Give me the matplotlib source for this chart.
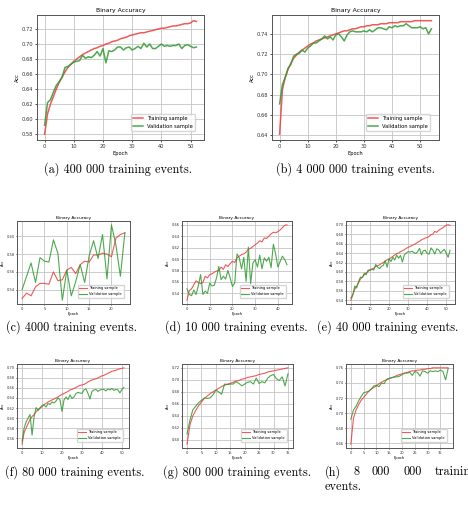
import numpy as np
import matplotlib
matplotlib.use("Agg")
from matplotlib import pyplot as plt
from matplotlib.ticker import MultipleLocator, FormatStrFormatter

# (a) 400 000 training events
train_a = [0.580, 0.607, 0.620, 0.630, 0.640, 0.649, 0.656, 0.663, 0.669, 0.673,
           0.677, 0.680, 0.683, 0.686, 0.688, 0.690, 0.692, 0.694, 0.695, 0.697,
           0.698, 0.700, 0.701, 0.703, 0.704, 0.705, 0.707, 0.708, 0.709, 0.711,
           0.712, 0.713, 0.714, 0.715, 0.715, 0.716, 0.717, 0.718, 0.719, 0.720,
           0.721, 0.721, 0.722, 0.723, 0.724, 0.724, 0.725, 0.726, 0.727, 0.727,
           0.728, 0.731, 0.730]
val_a = [0.592, 0.622, 0.626, 0.636, 0.645, 0.650, 0.656, 0.669, 0.670, 0.673,
         0.676, 0.677, 0.678, 0.685, 0.681, 0.683, 0.682, 0.685, 0.690, 0.684,
         0.694, 0.675, 0.691, 0.690, 0.692, 0.696, 0.696, 0.692, 0.695, 0.696,
         0.692, 0.694, 0.697, 0.694, 0.701, 0.696, 0.700, 0.694, 0.694, 0.697,
         0.700, 0.697, 0.698, 0.697, 0.698, 0.698, 0.700, 0.694, 0.698, 0.699,
         0.697, 0.695, 0.696]

# (b) 4 000 000 training events
train_b = [0.641, 0.685, 0.697, 0.705, 0.711, 0.716, 0.719, 0.722, 0.724, 0.726,
           0.728, 0.730, 0.731, 0.733, 0.734, 0.735, 0.736, 0.737, 0.738, 0.739,
           0.740, 0.741, 0.742, 0.743, 0.743, 0.744, 0.745, 0.745, 0.746, 0.747,
           0.747, 0.748, 0.748, 0.749, 0.749, 0.749, 0.750, 0.750, 0.750, 0.751,
           0.751, 0.751, 0.751, 0.752, 0.752, 0.752, 0.752, 0.752, 0.753, 0.753,
           0.753, 0.753, 0.753, 0.753, 0.753]
val_b = [0.671, 0.690, 0.697, 0.706, 0.710, 0.718, 0.720, 0.721, 0.724, 0.722,
         0.726, 0.728, 0.731, 0.731, 0.733, 0.735, 0.738, 0.735, 0.737, 0.734,
         0.739, 0.740, 0.737, 0.733, 0.739, 0.742, 0.743, 0.742, 0.742, 0.742,
         0.743, 0.742, 0.744, 0.742, 0.744, 0.746, 0.746, 0.745, 0.744, 0.747,
         0.746, 0.748, 0.747, 0.748, 0.748, 0.750, 0.748, 0.746, 0.746, 0.746,
         0.747, 0.745, 0.746, 0.740, 0.745]

# (c) 4000 training events
train_c = [0.530, 0.536, 0.533, 0.543, 0.547, 0.547, 0.546, 0.560, 0.550, 0.551,
           0.562, 0.565, 0.558, 0.568, 0.572, 0.571, 0.579, 0.579, 0.581, 0.580,
           0.577, 0.598, 0.602, 0.604]
val_c = [0.540, 0.555, 0.570, 0.548, 0.576, 0.572, 0.571, 0.596, 0.581, 0.528,
         0.562, 0.533, 0.549, 0.568, 0.548, 0.578, 0.595, 0.575, 0.602, 0.552,
         0.613, 0.590, 0.555, 0.604]

# (d) 10 000 training events
train_d = [0.528, 0.545, 0.548, 0.555, 0.562, 0.559, 0.557, 0.559, 0.570, 0.567,
           0.573, 0.574, 0.577, 0.579, 0.580, 0.586, 0.582, 0.590, 0.587, 0.592,
           0.596, 0.594, 0.602, 0.605, 0.608, 0.609, 0.612, 0.617, 0.619, 0.622,
           0.625, 0.628, 0.632, 0.630, 0.637, 0.636, 0.640, 0.644, 0.647, 0.646,
           0.648, 0.651, 0.655, 0.659, 0.660]
val_d = [0.548, 0.538, 0.536, 0.546, 0.538, 0.554, 0.573, 0.538, 0.544, 0.540,
         0.558, 0.553, 0.554, 0.567, 0.587, 0.564, 0.570, 0.565, 0.580, 0.567,
         0.552, 0.558, 0.609, 0.602, 0.583, 0.603, 0.561, 0.621, 0.557, 0.593,
         0.599, 0.586, 0.607, 0.583, 0.602, 0.596, 0.603, 0.585, 0.626, 0.609,
         0.586, 0.596, 0.605, 0.599, 0.590]

# (e) 40 000 training events
train_e = [0.540, 0.552, 0.563, 0.570, 0.577, 0.585, 0.589, 0.594, 0.598, 0.601,
           0.605, 0.606, 0.608, 0.612, 0.613, 0.615, 0.618, 0.620, 0.623, 0.626,
           0.627, 0.630, 0.633, 0.636, 0.639, 0.640, 0.643, 0.645, 0.647, 0.650,
           0.652, 0.654, 0.656, 0.658, 0.660, 0.663, 0.665, 0.668, 0.670, 0.672,
           0.673, 0.675, 0.679, 0.680, 0.686, 0.684, 0.688, 0.691, 0.693, 0.696,
           0.699, 0.700, 0.699]
val_e = [0.545, 0.552, 0.570, 0.566, 0.580, 0.589, 0.588, 0.597, 0.594, 0.604,
         0.603, 0.606, 0.604, 0.616, 0.610, 0.607, 0.612, 0.614, 0.624, 0.610,
         0.628, 0.622, 0.631, 0.625, 0.636, 0.629, 0.635, 0.621, 0.636, 0.640,
         0.643, 0.642, 0.644, 0.641, 0.639, 0.643, 0.650, 0.636, 0.645, 0.646,
         0.639, 0.638, 0.651, 0.646, 0.638, 0.649, 0.647, 0.640, 0.644, 0.648,
         0.640, 0.631, 0.646]

# (f) 80 000 training events
train_f = [0.548, 0.571, 0.580, 0.589, 0.597, 0.603, 0.607, 0.612, 0.617, 0.620,
           0.623, 0.627, 0.629, 0.632, 0.634, 0.636, 0.638, 0.640, 0.642, 0.645,
           0.647, 0.649, 0.651, 0.653, 0.656, 0.657, 0.659, 0.661, 0.663, 0.665,
           0.666, 0.667, 0.669, 0.672, 0.674, 0.676, 0.677, 0.678, 0.680, 0.682,
           0.684, 0.685, 0.687, 0.689, 0.691, 0.693, 0.694, 0.695, 0.697, 0.698,
           0.699, 0.700]
val_f = [0.554, 0.580, 0.592, 0.600, 0.607, 0.566, 0.602, 0.621, 0.615, 0.620,
         0.625, 0.626, 0.622, 0.629, 0.627, 0.632, 0.630, 0.634, 0.640, 0.636,
         0.613, 0.636, 0.642, 0.637, 0.646, 0.639, 0.642, 0.649, 0.651, 0.650,
         0.649, 0.656, 0.658, 0.649, 0.638, 0.653, 0.656, 0.657, 0.653, 0.656,
         0.657, 0.657, 0.654, 0.658, 0.656, 0.659, 0.655, 0.657, 0.656, 0.650,
         0.657, 0.661]

# (g) 800 000 training events
train_g = [0.593, 0.625, 0.640, 0.649, 0.657, 0.663, 0.669, 0.673, 0.677, 0.680,
           0.683, 0.686, 0.689, 0.691, 0.693, 0.694, 0.696, 0.698, 0.699, 0.701,
           0.702, 0.704, 0.705, 0.706, 0.707, 0.709, 0.710, 0.711, 0.713, 0.714,
           0.715, 0.716, 0.717, 0.718, 0.719, 0.720]
val_g = [0.610, 0.633, 0.650, 0.656, 0.662, 0.666, 0.670, 0.669, 0.670, 0.675,
         0.683, 0.680, 0.676, 0.693, 0.692, 0.693, 0.693, 0.697, 0.694, 0.690,
         0.693, 0.696, 0.697, 0.693, 0.703, 0.694, 0.697, 0.695, 0.703, 0.707,
         0.709, 0.702, 0.699, 0.705, 0.690, 0.710]

# (h) 8 000 000 training events
train_h = [0.659, 0.693, 0.704, 0.711, 0.717, 0.721, 0.725, 0.729, 0.732, 0.734,
           0.736, 0.739, 0.741, 0.743, 0.744, 0.746, 0.747, 0.748, 0.750, 0.751,
           0.752, 0.753, 0.754, 0.755, 0.756, 0.756, 0.757, 0.757, 0.758, 0.758,
           0.759, 0.759, 0.760, 0.760, 0.760, 0.760, 0.760, 0.760, 0.760]
val_h = [0.692, 0.704, 0.709, 0.716, 0.722, 0.727, 0.728, 0.729, 0.732, 0.736,
         0.737, 0.735, 0.740, 0.739, 0.745, 0.746, 0.747, 0.748, 0.748, 0.749,
         0.751, 0.753, 0.753, 0.754, 0.750, 0.755, 0.754, 0.749, 0.756, 0.755,
         0.753, 0.756, 0.755, 0.756, 0.755, 0.757, 0.755, 0.744, 0.759]

W, H = 468, 508
fig = plt.figure(figsize=(W / 100, H / 100), dpi=100)


def px(l, t, r, b):
    return [l / W, 1 - b / H, (r - l) / W, (b - t) / H]


def panel(box, train, val, xstep, s, lw):
    ax = fig.add_axes(px(*box))
    ep = np.arange(len(train))
    ax.plot(ep, train, color='#f03c3c', alpha=0.85, lw=lw, label='Training sample')
    ax.plot(ep, val, color='#2e9a2e', alpha=0.85, lw=lw, label='Validation sample')
    ax.set_title('Binary Accuracy', fontsize=12 * s, pad=6 * s)
    ax.set_xlabel('Epoch', fontsize=10 * s, labelpad=4 * s)
    ax.set_ylabel('Acc', fontsize=10 * s, labelpad=4 * s)
    ax.xaxis.set_major_locator(MultipleLocator(xstep))
    ax.yaxis.set_major_locator(MultipleLocator(0.02))
    ax.yaxis.set_major_formatter(FormatStrFormatter('%.2f'))
    ax.tick_params(labelsize=10 * s, length=3.5 * s, width=0.6, pad=3.5 * s,
                   colors='#333333')
    ax.grid(True, lw=0.6, color='#c4c4c4')
    for sp in ax.spines.values():
        sp.set_linewidth(0.7)
        sp.set_color('#555555')
    ax.legend(loc='lower right', fontsize=10 * s, borderaxespad=1.8)
    return ax


panel((37, 15, 204, 140), train_a, val_a, 10, 0.37, 1.1)
panel((272, 15, 439, 140), train_b, val_b, 10, 0.37, 1.1)
panel((17, 221, 130, 304), train_c, val_c, 5, 0.26, 0.8)
panel((182, 221, 292, 304), train_d, val_d, 10, 0.26, 0.8)
panel((346, 221, 455, 304), train_e, val_e, 10, 0.26, 0.8)
panel((17, 364, 129, 448), train_f, val_f, 10, 0.26, 0.8)
panel((182, 364, 293, 448), train_g, val_g, 5, 0.26, 0.8)
panel((346, 364, 453, 448), train_h, val_h, 5, 0.26, 0.8)

# captions
cap = dict(fontfamily='cmr10', fontsize=8.8, va='center')


def cx(x, y, txt, ha='center'):
    fig.text(x / W, 1 - y / H, txt, ha=ha, **cap)


cx(118, 169, '(a) 400 000 training events.')
cx(356, 169, '(b) 4 000 000 training events.')
cx(72, 327, '(c) 4000 training events.')
cx(236, 327, '(d) 10 000 training events.')
cx(317, 327, '(e) 40 000 training events.', ha='left')
cx(75, 472, '(f) 80 000 training events.')
cx(237, 472, '(g) 800 000 training events.')
# justified two-line caption for (h)
for x, w in zip([325, 353, 372, 403, 435], ['(h)', '8', '000', '000', 'training']):
    cx(x, 472, w, ha='left')
cx(325, 487, 'events.', ha='left')

fig.savefig('out.png', dpi=100)
